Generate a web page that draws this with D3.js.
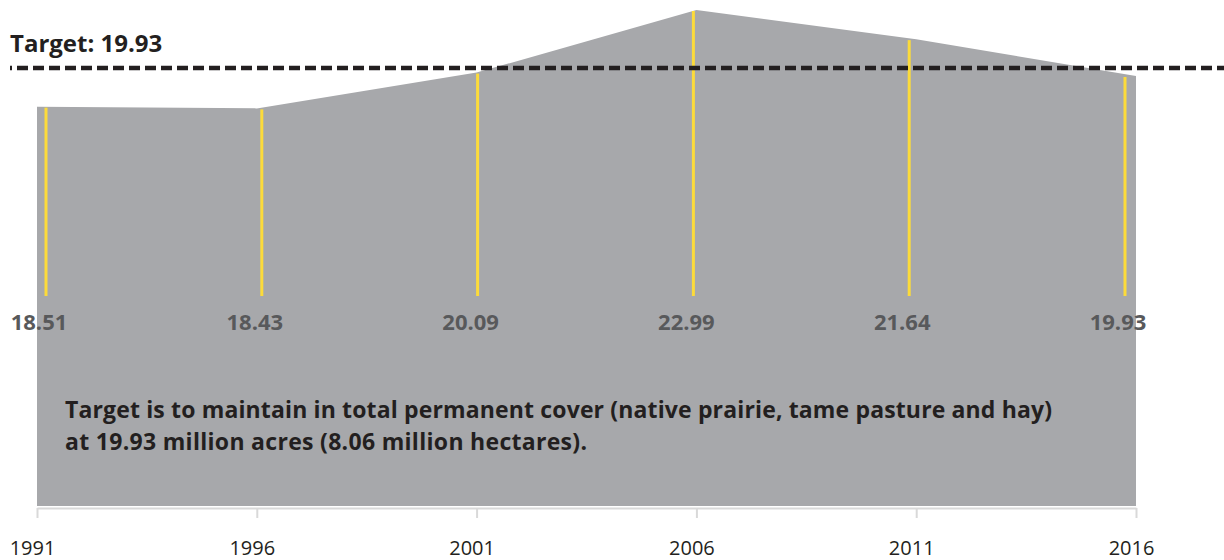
<!DOCTYPE html>
<html>
<head>
<meta charset="utf-8">
<script src="https://cdn.jsdelivr.net/npm/d3@7"></script>
<style>
  html, body { margin: 0; padding: 0; background: #fff; }
  svg { display: block; font-family: "Open Sans", "Noto Sans", sans-serif; }
</style>
</head>
<body>
<svg id="chart" width="1224" height="560"></svg>
<script>
// Permanent cover (native prairie, tame pasture and hay), million acres
const years = [1991, 1996, 2001, 2006, 2011, 2016];
const cover = [18.51, 18.43, 20.09, 22.99, 21.64, 19.93];
const target = 19.93;
const noteLines = [
  "Target is to maintain in total permanent cover (native prairie, tame pasture and hay)",
  "at 19.93 million acres (8.06 million hectares)."
];

const data = years.map((yr, i) => ({ year: yr, value: cover[i] }));
const svg = d3.select("#chart");

const x = d3.scaleLinear().domain([1991, 2016]).range([37, 1136]);
const xMark = d3.scaleLinear().domain([1991, 2016]).range([46, 1125]);
const y = d3.scaleLinear().domain([0, 22.99]).range([506, 10]);

// filled area
const area = d3.area()
  .x(d => x(d.year))
  .y0(y(0))
  .y1(d => y(d.value));

svg.append("path")
  .datum(data)
  .attr("d", area)
  .attr("fill", "#a7a8ab");

// yellow markers
svg.append("g")
  .selectAll("line")
  .data(data)
  .join("line")
  .attr("x1", d => xMark(d.year))
  .attr("x2", d => xMark(d.year))
  .attr("y1", d => y(d.value) + 1)
  .attr("y2", 296)
  .attr("stroke", "#fcdb3a")
  .attr("stroke-width", 3);

// value labels
svg.append("g")
  .selectAll("text")
  .data(data)
  .join("text")
  .attr("x", d => xMark(d.year) - 7)
  .attr("y", 330)
  .attr("text-anchor", "middle")
  .attr("font-size", 22)
  .attr("font-weight", 700)
  .attr("fill", "#58595b")
  .text(d => d3.format(".2f")(d.value));

// target line
const targetY = y(target) - 8;
svg.append("line")
  .attr("x1", 10)
  .attr("x2", 1224)
  .attr("y1", targetY)
  .attr("y2", targetY)
  .attr("stroke", "#231f20")
  .attr("stroke-width", 4.5)
  .attr("stroke-dasharray", "11,5")
  .attr("stroke-dashoffset", 9);

svg.append("text")
  .attr("x", 10)
  .attr("y", 52)
  .attr("font-size", 24)
  .attr("font-weight", 700)
  .attr("fill", "#231f20")
  .text("Target: " + d3.format(".2f")(target));

// note
const noteWidths = [987, 522];
svg.append("g")
  .selectAll("text")
  .data(noteLines)
  .join("text")
  .attr("x", 65)
  .attr("y", (d, i) => 418 + i * 32)
  .attr("font-size", 23)
  .attr("font-weight", 700)
  .attr("fill", "#231f20")
  .attr("textLength", (d, i) => noteWidths[i])
  .attr("lengthAdjust", "spacing")
  .text(d => d);

// x axis
const axis = svg.append("g")
  .attr("transform", "translate(0,508)")
  .call(d3.axisBottom(x)
    .tickValues(years)
    .tickFormat(d3.format("d"))
    .tickSize(10)
    .tickSizeOuter(0)
    .tickPadding(23));

axis.select(".domain").attr("stroke", "#d9d9d9").attr("stroke-width", 2);
axis.selectAll(".tick line").attr("stroke", "#d9d9d9").attr("stroke-width", 2);
axis.selectAll(".tick text")
  .attr("dx", -5)
  .attr("font-size", 20)
  .attr("font-family", "'Open Sans', sans-serif")
  .attr("fill", "#231f20");
</script>
</body>
</html>
